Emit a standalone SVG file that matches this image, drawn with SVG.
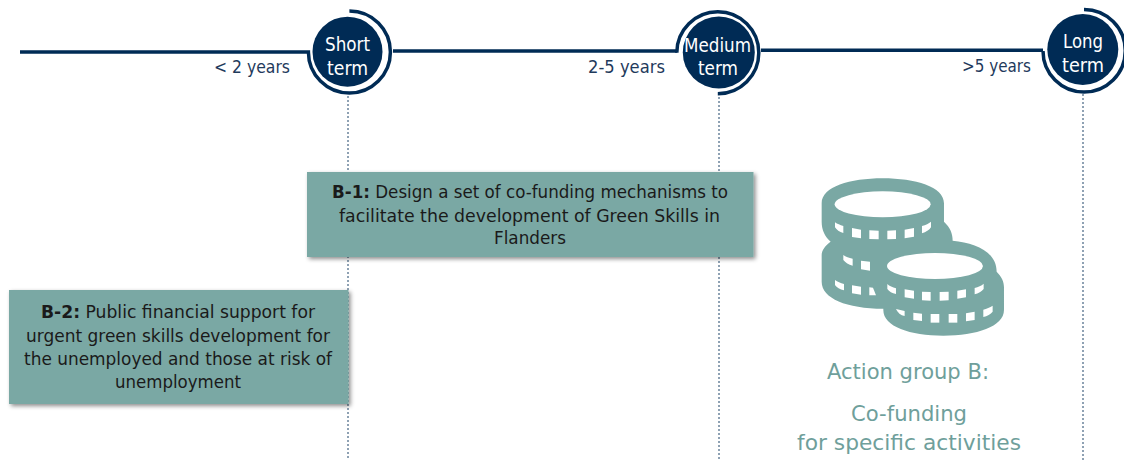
<svg xmlns="http://www.w3.org/2000/svg" width="1124" height="464" viewBox="0 0 1124 464">
<style>
text{font-family:"DejaVu Sans","Liberation Sans",sans-serif;font-stretch:condensed}
.l{fill:none;stroke:#002b55;stroke-width:3.500}
.d{fill:none;stroke:#1f4468;stroke-width:1;stroke-dasharray:2 2}
.c{fill:#002b55}
.w{fill:#fff;font-size:19.500px;text-anchor:middle}
.y{fill:#1f3a5c;font-size:18px}
.b{fill:#7aa8a4;filter:url(#s)}
.t{fill:#1a1a1a;font-size:18px}
.g{fill:#6f9f9b;font-size:22px}
.h{fill:#fff}
</style>
<defs><filter id="s" x="-5%" y="-10%" width="110%" height="125%"><feDropShadow dx="2" dy="2" stdDeviation="2" flood-color="#000" flood-opacity=".45"/></filter></defs>
<rect width="1124" height="464" fill="#fff"/>
<g id="connectors">
<path class="l" d="M20 52H308.400A41 41 0 1 0 349.400 11"/>
<path class="l" d="M393 51H677"/>
<path class="l" d="M717.800 93.700A41 41 0 1 0 676.800 52.700"/>
<path class="l" d="M761 50.300H1043"/>
<path class="l" d="M1043 51A41 41 0 0 0 1084 92A41 41 0 0 0 1084 9.500"/>
<path class="d" d="M348 96V460M719 97V460M1083 94V460"/>
</g>
<g id="short-term"><circle class="c" cx="347.500" cy="51.700" r="35"/><text class="w" x="347.500" y="51" textLength="45" lengthAdjust="spacingAndGlyphs">Short</text><text class="w" x="347.500" y="75" textLength="41" lengthAdjust="spacingAndGlyphs">term</text><text class="y" x="214" y="73" textLength="76" lengthAdjust="spacingAndGlyphs">&lt; 2 years</text></g>
<g id="medium-term"><circle class="c" cx="718.800" cy="52.500" r="36"/><text class="w" x="717.500" y="52" textLength="67" lengthAdjust="spacingAndGlyphs">Medium</text><text class="w" x="718" y="75" textLength="40" lengthAdjust="spacingAndGlyphs">term</text><text class="y" x="588" y="73" textLength="77" lengthAdjust="spacingAndGlyphs">2-5 years</text></g>
<g id="long-term"><circle class="c" cx="1082.800" cy="49.500" r="35.500"/><text class="w" x="1083" y="48" textLength="40" lengthAdjust="spacingAndGlyphs">Long</text><text class="w" x="1083" y="72" textLength="42" lengthAdjust="spacingAndGlyphs">term</text><text class="y" x="962" y="72" textLength="69" lengthAdjust="spacingAndGlyphs">&gt;5 years</text></g>
<g id="b-1"><rect class="b" x="307" y="172" width="446.500" height="85"/>
<text class="t" x="332" y="198" textLength="396" lengthAdjust="spacingAndGlyphs"><tspan font-weight="bold">B-1:</tspan> Design a set of co-funding mechanisms to</text>
<text class="t" x="339" y="222" textLength="381" lengthAdjust="spacingAndGlyphs">facilitate the development of Green Skills in</text>
<text class="t" x="494" y="244" textLength="72" lengthAdjust="spacingAndGlyphs">Flanders</text></g>
<g id="b-2"><rect class="b" x="9" y="290" width="339.500" height="114"/>
<text class="t" x="41" y="318" textLength="274" lengthAdjust="spacingAndGlyphs"><tspan font-weight="bold">B-2:</tspan> Public financial support for</text>
<text class="t" x="26" y="342" textLength="304" lengthAdjust="spacingAndGlyphs">urgent green skills development for</text>
<text class="t" x="24" y="365" textLength="308" lengthAdjust="spacingAndGlyphs">the unemployed and those at risk of</text>
<text class="t" x="115" y="388" textLength="126" lengthAdjust="spacingAndGlyphs">unemployment</text></g>
<g id="action-group-b">
<g transform="translate(800 170) scale(.3333)">
<g fill="#7aa8a4">
<path d="M65 100C65 50 150 25 248 25S432 50 432 100V155C450 172 458 190 458 212C525 218 590 245 590 305C605 320 612 335 612 352V420C612 470 530 497 430 497S250 470 250 420V416C140 416 65 385 65 335V255C65 240 78 225 92 215C75 200 65 180 65 155Z"/>
</g>
<g class="h">
<ellipse cx="248" cy="103" rx="144" ry="39"/>
<ellipse cx="405" cy="288" rx="144" ry="39"/>
<path d="M105 157C112 162 120 165 130 168V189C118 186 110 180 105 172Z"/>
<path d="M156 174L183 179V205L156 201Z"/><path d="M208 181L236 182V208L208 207Z"/><path d="M262 182L288 181V207L262 208Z"/><path d="M314 179L342 174V200L314 205Z"/>
<path d="M366 168C378 165 386 160 393 155V172C388 180 378 186 366 190Z"/>
<path d="M130 255C137 260 147 264 158 266V287C146 284 136 278 130 270Z"/><path d="M183 272L210 275V302L183 298Z"/>
<path d="M105 330C112 335 122 340 132 342V361C120 358 110 352 105 345Z"/><path d="M156 346L183 350V374L156 370Z"/><path d="M208 352L219 353L228 376H208Z"/>
<path d="M262 342C268 348 278 352 288 355V372C276 370 268 364 262 357Z"/><path d="M314 358L342 362V386L314 382Z"/><path d="M366 365L392 366V392L366 391Z"/><path d="M419 366L446 365V391L419 392Z"/><path d="M472 362L498 358V382L472 386Z"/>
<path d="M524 354C535 351 544 347 551 341V357C545 364 535 370 524 373Z"/>
<path d="M288 417L314 423V438C302 436 293 428 288 417Z"/><path d="M340 428L366 431V453L340 450Z"/><path d="M392 432H418V458H392Z"/><path d="M446 432H472V458H446Z"/><path d="M498 430L524 425V450L498 454Z"/>
<path d="M550 419C560 416 570 412 578 407V425C572 432 562 438 550 441Z"/>
</g></g>
<text class="g" x="827" y="379" textLength="162" lengthAdjust="spacingAndGlyphs">Action group B:</text>
<text class="g" x="851" y="421" textLength="116" lengthAdjust="spacingAndGlyphs">Co-funding</text>
<text class="g" x="797" y="450" textLength="224" lengthAdjust="spacingAndGlyphs">for specific activities</text>
</g>
</svg>
